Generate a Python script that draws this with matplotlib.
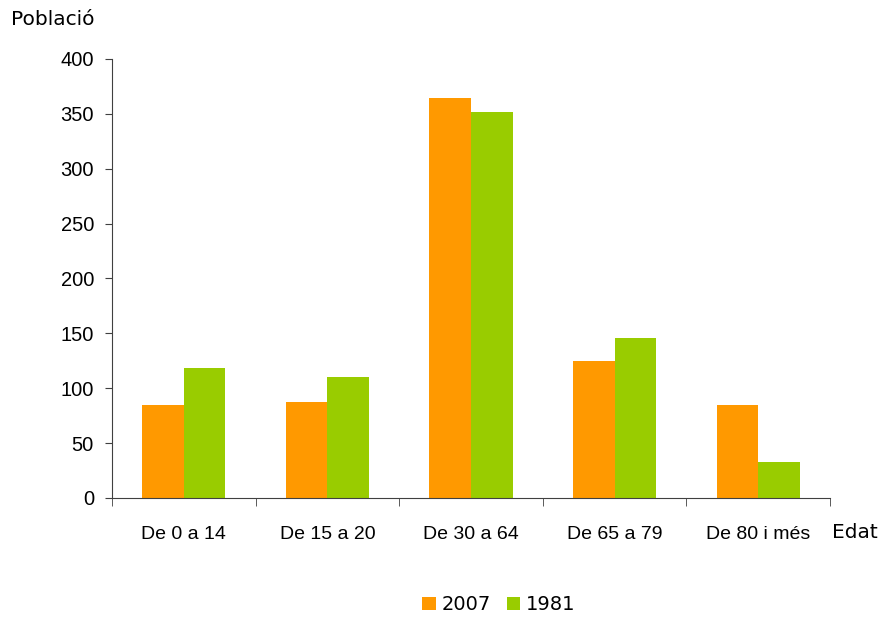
import numpy as np
import matplotlib

matplotlib.use("Agg")
import matplotlib.pyplot as plt  # noqa: E402

categories = ["De 0 a 14", "De 15 a 20", "De 30 a 64", "De 65 a 79", "De 80 i més"]
series_names = ["2007", "1981"]
values_2007 = [85, 87, 364, 125, 85]
values_1981 = [118, 110, 352, 146, 33]
colors = ["#FF9900", "#99CC00"]
yticks = [0, 50, 100, 150, 200, 250, 300, 350, 400]

plt.rcParams["font.family"] = ["Liberation Sans", "DejaVu Sans"]

fig = plt.figure(figsize=(8.83, 6.17), dpi=100)
ax = fig.add_axes([0.1268, 0.1929, 0.8132, 0.7115])

x = np.arange(len(categories))
w = 0.29
ax.bar(x - w / 2, values_2007, w, color=colors[0], label=series_names[0])
ax.bar(x + w / 2, values_1981, w, color=colors[1], label=series_names[1])

ax.set_xlim(-0.5, len(categories) - 0.5)
ax.set_ylim(0, 400)
ax.set_yticks(yticks)
ax.set_xticks(x)
ax.set_xticklabels(categories, fontsize=14)
ax.set_xticks(np.arange(len(categories) + 1) - 0.5, minor=True)
ax.tick_params(axis="x", which="major", length=0, pad=20)
ax.tick_params(axis="x", which="minor", length=6, color="#404040")
ax.tick_params(axis="y", labelsize=14.5, length=5, color="#404040", pad=8)

for s in ["top", "right"]:
    ax.spines[s].set_visible(False)
for s in ["left", "bottom"]:
    ax.spines[s].set_color("#404040")

fig.text(0.012, 0.968, "Població", fontsize=14.5, family="DejaVu Sans",
         va="center", ha="left")
fig.text(0.942, 0.137, "Edat", fontsize=14.5, family="DejaVu Sans",
         va="center", ha="left")

fig.legend(loc="center", bbox_to_anchor=(0.565, 0.02), ncol=2, frameon=False,
           handlelength=0.7, handleheight=0.7, handletextpad=0.3,
           columnspacing=0.8, prop={"family": "DejaVu Sans", "size": 14})

fig.savefig("out.png", dpi=100)
